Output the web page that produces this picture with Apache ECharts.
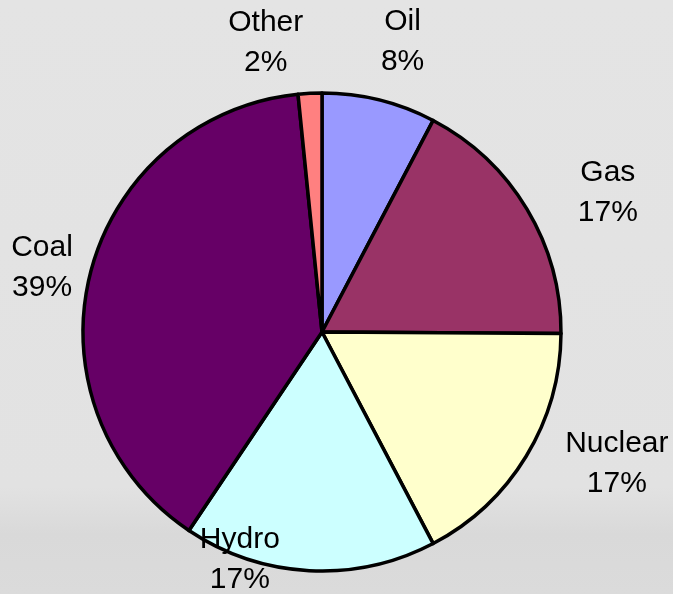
<!DOCTYPE html>
<html>
<head>
<meta charset="utf-8">
<script src="https://cdn.jsdelivr.net/npm/echarts@6/dist/echarts.min.js"></script>
<style>
  html, body { margin: 0; padding: 0; background: #e3e3e3; }
  #chart { width: 673px; height: 594px; }
</style>
</head>
<body>
<div id="chart"></div>
<script>
// Data (clockwise from 12 o'clock)
const categories = ['Oil', 'Gas', 'Nuclear', 'Hydro', 'Coal', 'Other'];
const shares = [7.7, 17.4, 17.2, 17.1, 39.0, 1.6];
const sliceColors = ['#9999FF', '#993366', '#FFFFCC', '#CCFFFF', '#660066', '#FF8080'];
// label nudges (style), keyed by category
const labelNudge = {
  Oil: [8, 4], Gas: [26, 17], Nuclear: [36, -26],
  Hydro: [-66, -75], Coal: [14, 9], Other: [-41, 13]
};

const chart = echarts.init(document.getElementById('chart'), null, { renderer: 'canvas' });
const CENTER = [322, 332];

const pieData = categories.map((c, i) => ({
  name: c, value: shares[i], itemStyle: { color: sliceColors[i] }
}));
const labelData = categories.map((c, i) => ({
  name: c, value: shares[i],
  label: { offset: labelNudge[c] }
}));

chart.setOption({
  backgroundColor: {
    type: 'linear', x: 0, y: 0, x2: 0, y2: 1,
    colorStops: [
      { offset: 0, color: '#e4e4e4' },
      { offset: 0.82, color: '#e2e2e2' },
      { offset: 0.9, color: '#d9d9d9' },
      { offset: 1, color: '#dbdbdb' }
    ]
  },
  animation: false,
  series: [
    {
      type: 'pie',
      center: CENTER,
      radius: 239,
      startAngle: 90,
      clockwise: true,
      avoidLabelOverlap: false,
      silent: true,
      label: { show: false },
      labelLine: { show: false },
      itemStyle: { borderColor: '#000', borderWidth: 3.5 },
      emphasis: { disabled: true },
      data: pieData
    },
    {
      type: 'pie',
      center: CENTER,
      radius: [290, 310],
      startAngle: 90,
      clockwise: true,
      silent: true,
      itemStyle: { color: 'transparent', borderWidth: 0 },
      emphasis: { disabled: true },
      labelLine: { show: false },
      label: {
        show: true,
        position: 'inside',
        color: '#000',
        fontFamily: '"Liberation Sans", Arial, sans-serif',
        fontSize: 30,
        lineHeight: 40,
        align: 'center',
        verticalAlign: 'middle',
        formatter: p => p.name + '\n' + Math.round(p.percent) + '%'
      },
      data: labelData
    }
  ]
});
</script>
</body>
</html>
